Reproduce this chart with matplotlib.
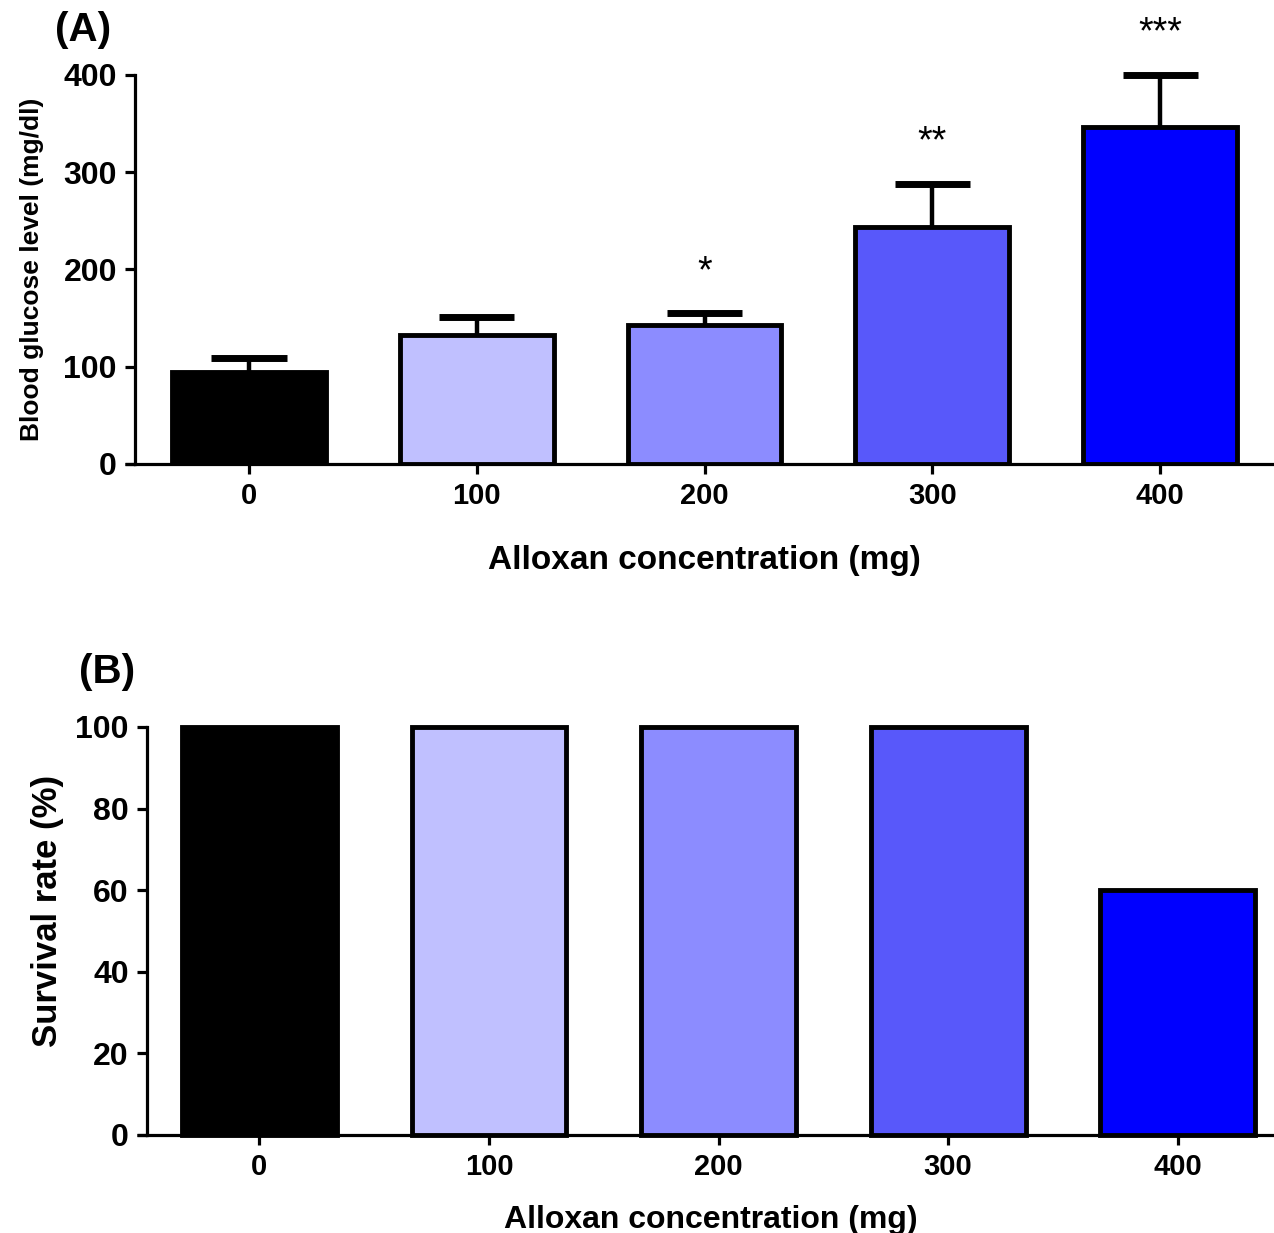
import matplotlib
matplotlib.use("Agg")
import matplotlib.pyplot as plt
import numpy as np

plt.rcParams['font.family'] = ['Liberation Sans', 'DejaVu Sans']
plt.rcParams['font.weight'] = 'bold'

categories = ["0", "100", "200", "300", "400"]
glucose_mean = [95, 133, 143, 244, 346]
glucose_err = [14, 18, 12, 44, 54]
significance = ["", "", "*", "**", "***"]
survival = [100, 100, 100, 100, 60]
colors = ["#000000", "#C0C0FF", "#8C8CFF", "#5858FA", "#0000FF"]

fig = plt.figure(figsize=(12.74, 12.33), dpi=100)

def style(ax, ylim, yticks, lw=2.3):
    ax.spines['top'].set_visible(False)
    ax.spines['right'].set_visible(False)
    ax.spines['left'].set_linewidth(lw)
    ax.spines['bottom'].set_linewidth(lw)
    ax.set_ylim(*ylim)
    ax.set_yticks(yticks)
    ax.tick_params(axis='both', direction='out', length=7, width=lw, pad=6)
    ax.tick_params(axis='y', labelsize=23)
    ax.tick_params(axis='x', labelsize=21)
    for lab in ax.get_xticklabels() + ax.get_yticklabels():
        lab.set_fontweight('bold')
    # extend baseline slightly left of the y axis (tick length)
    ax.plot([-0.009, 0], [0, 0], transform=ax.transAxes, color='black',
            lw=lw, clip_on=False, solid_capstyle='butt')

# Panel A
axA = fig.add_axes([0.106, 0.6237, 0.894, 0.3155])
x = np.arange(len(categories))
axA.bar(x, glucose_mean, width=0.675, color=colors, edgecolor='black', linewidth=3.5, zorder=3)
tops = np.array(glucose_mean) + np.array(glucose_err)
axA.vlines(x, glucose_mean, tops, color='black', lw=3.2, zorder=2)
axA.hlines(tops, x - 0.165, x + 0.165, color='black', lw=5, zorder=2, clip_on=False)
for xi, t, s in zip(x, tops, significance):
    if s:
        axA.text(xi, t + 24, s, ha='center', va='bottom', fontsize=27, fontweight='normal')
axA.set_xlim(-0.5, 4.5)
axA.set_xticks(x)
axA.set_xticklabels(categories)
style(axA, (0, 400), [0, 100, 200, 300, 400])
axA.set_ylabel("Blood glucose level (mg/dl)", fontsize=19, fontweight='bold', labelpad=14)
axA.set_xlabel("Alloxan concentration (mg)", fontsize=24, fontweight='bold', labelpad=25)
fig.text(0.043, 0.976, "(A)", fontsize=29, fontweight='bold', ha='left', va='center')

# Panel B
axB = fig.add_axes([0.1154, 0.0795, 0.8846, 0.3309])
axB.bar(x, survival, width=0.675, color=colors, edgecolor='black', linewidth=3.5, zorder=3, clip_on=False)
axB.set_xlim(-0.49, 4.42)
axB.set_xticks(x)
axB.set_xticklabels(categories)
style(axB, (0, 100), [0, 20, 40, 60, 80, 100])
axB.set_ylabel("Survival rate (%)", fontsize=25, fontweight='bold')
axB.yaxis.set_label_coords(-0.074, 0.55)
axB.set_xlabel("Alloxan concentration (mg)", fontsize=23, fontweight='bold', labelpad=17)
fig.text(0.062, 0.455, "(B)", fontsize=29, fontweight='bold', ha='left', va='center')

fig.savefig("out.png", dpi=100)
